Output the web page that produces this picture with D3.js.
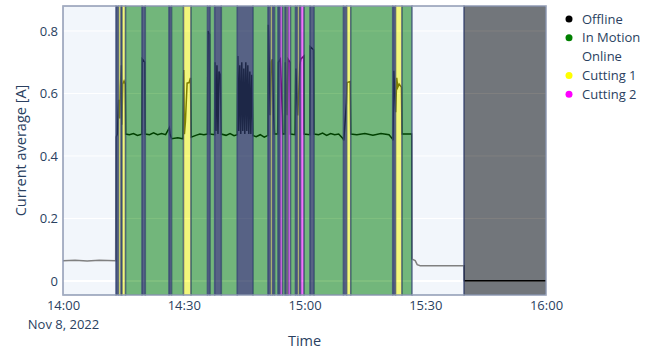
<!DOCTYPE html>
<html>
<head>
<meta charset="utf-8">
<script src="https://cdn.jsdelivr.net/npm/d3@7"></script>
<style>
  html, body { margin: 0; padding: 0; background: #fff; }
  body { width: 657px; height: 353px; overflow: hidden; }
  text { font-family: "Open Sans", "DejaVu Sans", sans-serif; fill: #2a3f5f; }
</style>
</head>
<body>
<div id="chart"></div>
<script>
// machine state intervals: each state lasts until the next start
var stateStarts = [
  "14:00:00", "14:13:10", "14:13:48", "14:14:25", "14:14:40", "14:15:32",
  "14:19:38", "14:20:27", "14:26:20", "14:26:58", "14:29:56", "14:31:48",
  "14:35:54", "14:36:31", "14:37:41", "14:39:20", "14:43:18", "14:47:12",
  "14:50:56", "14:51:33", "14:52:03", "14:52:33", "14:53:25", "14:53:55",
  "14:54:32", "14:55:10", "14:55:32", "14:55:54", "14:56:31", "14:57:46",
  "14:58:16", "14:58:46", "14:59:01", "14:59:53", "15:01:22", "15:02:22",
  "15:09:41", "15:10:29", "15:11:29", "15:21:55", "15:22:37", "15:24:13",
  "15:26:43", "15:39:38"
];
var stateNames = [
  "online", "idle", "cut1", "idle", "cut1", "motion",
  "idle", "motion", "idle", "motion", "cut1", "motion",
  "idle", "motion", "idle", "motion", "idle", "motion",
  "idle", "cut1", "idle", "motion", "idle", "cut2",
  "motion", "idle", "cut1", "cut2", "motion", "idle",
  "cut1", "idle", "cut2", "motion", "idle", "motion",
  "idle", "cut1", "motion", "idle", "cut1", "motion",
  "online", "offline"
];
var stateEnd = "16:00:00";

// current average readings
var currentTimes = [
  "14:00:00", "14:03:00", "14:06:00", "14:09:00", "14:13:05", "14:13:10",
  "14:13:30", "14:13:50", "14:14:05", "14:14:15", "14:14:30", "14:14:38",
  "14:14:50", "14:15:10", "14:15:28", "14:15:34", "14:16:30", "14:17:30",
  "14:18:30", "14:19:35", "14:19:42", "14:20:20", "14:20:27", "14:21:30",
  "14:22:30", "14:23:30", "14:24:30", "14:25:30", "14:26:25", "14:26:35",
  "14:27:00", "14:28:30", "14:29:50", "14:30:00", "14:30:10", "14:30:25",
  "14:30:50", "14:31:20", "14:31:40", "14:31:50", "14:33:00", "14:34:00",
  "14:35:00", "14:35:54", "14:36:00", "14:36:25", "14:36:31", "14:37:40",
  "14:37:45", "14:38:00", "14:38:15", "14:38:30", "14:38:45", "14:39:05",
  "14:39:20", "14:40:30", "14:41:30", "14:42:30", "14:43:18", "14:43:25",
  "14:43:40", "14:43:55", "14:44:10", "14:44:25", "14:44:40", "14:44:55",
  "14:45:10", "14:45:25", "14:45:40", "14:45:55", "14:46:10", "14:46:25",
  "14:46:40", "14:46:55", "14:47:12", "14:48:00", "14:49:00", "14:50:00",
  "14:50:56", "14:51:00", "14:51:30", "14:51:45", "14:52:00", "14:52:20",
  "14:52:33", "14:53:20", "14:53:30", "14:54:00", "14:54:30", "14:54:35",
  "14:55:10", "14:55:15", "14:55:40", "14:55:55", "14:56:25", "14:56:31",
  "14:57:40", "14:57:50", "14:58:20", "14:58:50", "14:59:05", "14:59:50",
  "14:59:53", "15:01:20", "15:01:25", "15:02:15", "15:02:22", "15:03:30",
  "15:04:30", "15:05:30", "15:06:30", "15:07:30", "15:08:30", "15:09:35",
  "15:09:45", "15:10:25", "15:10:35", "15:11:20", "15:11:29", "15:13:00",
  "15:15:00", "15:17:00", "15:19:00", "15:21:00", "15:21:50", "15:22:00",
  "15:22:10", "15:22:40", "15:22:55", "15:23:10", "15:23:30", "15:24:05",
  "15:24:13", "15:25:30", "15:26:40", "15:26:45", "15:27:30", "15:28:00",
  "15:28:45", "15:33:00", "15:39:35", "15:39:38", "16:00:00"
];
var currentValues = [
  0.065, 0.066, 0.064, 0.066, 0.065, 0.46,
  0.47, 0.58, 0.52, 0.62, 0.69, 0.50,
  0.63, 0.64, 0.63, 0.47, 0.468, 0.472,
  0.466, 0.47, 0.71, 0.70, 0.47, 0.468,
  0.474, 0.468, 0.472, 0.468, 0.49, 0.47,
  0.455, 0.458, 0.455, 0.675, 0.47, 0.51,
  0.633, 0.635, 0.65, 0.46, 0.466, 0.47,
  0.468, 0.47, 0.80, 0.79, 0.47, 0.468,
  0.70, 0.48, 0.69, 0.47, 0.67, 0.66,
  0.47, 0.466, 0.472, 0.465, 0.468, 0.72,
  0.48, 0.69, 0.47, 0.70, 0.48, 0.68,
  0.47, 0.70, 0.48, 0.69, 0.47, 0.67,
  0.47, 0.66, 0.465, 0.462, 0.468, 0.46,
  0.466, 0.82, 0.53, 0.70, 0.71, 0.53,
  0.47, 0.47, 0.70, 0.71, 0.53, 0.47,
  0.47, 0.70, 0.53, 0.71, 0.70, 0.47,
  0.468, 0.68, 0.53, 0.69, 0.71, 0.72,
  0.47, 0.468, 0.75, 0.74, 0.47, 0.468,
  0.473, 0.466, 0.472, 0.468, 0.47, 0.455,
  0.45, 0.57, 0.635, 0.638, 0.47, 0.468,
  0.472, 0.466, 0.472, 0.468, 0.455, 0.45,
  0.673, 0.54, 0.65, 0.62, 0.63, 0.62,
  0.47, 0.47, 0.47, 0.07, 0.065, 0.052,
  0.049, 0.049, 0.049, 0.001, 0.001
];

var yTicks = [0, 0.2, 0.4, 0.6, 0.8];
var legendNames = ["Offline", "In Motion", "Online", "Cutting 1", "Cutting 2"];
var legendKeys = ["offline", "motion", "online", "cut1", "cut2"];

var stateColor = {
  offline: "#000000",
  motion: "#008000",
  online: "#ffffff",
  cut1: "#ffff00",
  cut2: "#ff00ff",
  idle: "#27345f"
};

var parseT = d3.timeParse("%Y-%m-%d %H:%M:%S");
function t(s) { return parseT("2022-11-08 " + s); }

var width = 657, height = 353;
var margin = { left: 63, right: 111, top: 6, bottom: 58 };

var svg = d3.select("#chart").append("svg")
    .attr("width", width)
    .attr("height", height);

var x = d3.scaleTime()
    .domain([t("14:00:00"), t("16:00:00")])
    .range([margin.left, width - margin.right]);

var y = d3.scaleLinear()
    .domain([-0.045, 0.88])
    .range([height - margin.bottom, margin.top]);

// plot background and grid
svg.append("rect")
    .attr("x", x.range()[0]).attr("y", y.range()[1])
    .attr("width", x.range()[1] - x.range()[0])
    .attr("height", y.range()[0] - y.range()[1])
    .attr("fill", "#e5ecf6");

svg.append("g").selectAll("line")
    .data(yTicks)
    .enter().append("line")
    .attr("x1", x.range()[0]).attr("x2", x.range()[1])
    .attr("y1", function(d) { return y(d); })
    .attr("y2", function(d) { return y(d); })
    .attr("stroke", "#fff")
    .attr("stroke-width", function(d) { return d === 0 ? 2 : 1; });

// current line sits below the state shading
var points = currentTimes.map(function(s, i) { return [t(s), currentValues[i]]; });
var line = d3.line()
    .x(function(d) { return x(d[0]); })
    .y(function(d) { return y(d[1]); });

svg.append("path")
    .datum(points)
    .attr("d", line)
    .attr("fill", "none")
    .attr("stroke", "#000")
    .attr("stroke-width", 1.5);

// state shading
var segments = stateStarts.map(function(s, i) {
  return {
    start: t(s),
    end: t(i + 1 < stateStarts.length ? stateStarts[i + 1] : stateEnd),
    state: stateNames[i]
  };
});

svg.append("g").selectAll("rect")
    .data(segments)
    .enter().append("rect")
    .attr("x", function(d) { return x(d.start); })
    .attr("y", y.range()[1])
    .attr("width", function(d) { return x(d.end) - x(d.start); })
    .attr("height", y.range()[0] - y.range()[1])
    .attr("fill", function(d) { return stateColor[d.state]; })
    .attr("fill-opacity", function(d) { return d.state === "idle" ? 0.75 : 0.5; })
    .attr("stroke", "#3d4a78")
    .attr("stroke-opacity", 0.55)
    .attr("stroke-width", 1.5);

// frame
svg.append("rect")
    .attr("x", x.range()[0]).attr("y", y.range()[1])
    .attr("width", x.range()[1] - x.range()[0])
    .attr("height", y.range()[0] - y.range()[1])
    .attr("fill", "none")
    .attr("stroke", "#a7b2c5")
    .attr("stroke-width", 1);

// axes
var fmt = d3.timeFormat("%H:%M");
var xAxis = svg.append("g")
    .attr("transform", "translate(0," + y.range()[0] + ")")
    .call(d3.axisBottom(x).ticks(d3.timeMinute.every(30)).tickSize(0).tickPadding(6).tickFormat(fmt));
xAxis.select(".domain").remove();
xAxis.selectAll("text")
    .attr("font-size", 13)
    .attr("fill", "#2a3f5f")
    .style("font-family", "'Open Sans', sans-serif");
xAxis.selectAll(".tick").filter(function(d, i) { return i === 0; })
    .append("text")
    .attr("y", 25).attr("dy", "0.71em")
    .attr("text-anchor", "middle")
    .attr("font-size", 13)
    .text("Nov 8, 2022");

var yAxis = svg.append("g")
    .attr("transform", "translate(" + x.range()[0] + ",0)")
    .call(d3.axisLeft(y).tickValues(yTicks).tickSize(0).tickPadding(5)
      .tickFormat(function(d) { return d === 0 ? "0" : d3.format(".1f")(d); }));
yAxis.select(".domain").remove();
yAxis.selectAll("text")
    .attr("font-size", 13)
    .attr("fill", "#2a3f5f")
    .style("font-family", "'Open Sans', sans-serif");

svg.append("text")
    .attr("transform", "translate(21," + ((y.range()[0] + y.range()[1]) / 2) + ") rotate(-90)")
    .attr("text-anchor", "middle")
    .attr("dy", "0.35em")
    .attr("font-size", 14.5)
    .text("Current average [A]");

svg.append("text")
    .attr("x", (x.range()[0] + x.range()[1]) / 2)
    .attr("y", 346)
    .attr("text-anchor", "middle")
    .attr("font-size", 14.5)
    .text("Time");

// legend
var legend = svg.append("g")
    .attr("transform", "translate(569,19)");
var items = legend.selectAll("g")
    .data(legendNames)
    .enter().append("g")
    .attr("transform", function(d, i) { return "translate(0," + (i * 18.8) + ")"; });
items.append("circle")
    .attr("r", 3.5)
    .attr("fill", function(d, i) { return stateColor[legendKeys[i]]; });
items.append("text")
    .attr("x", 13)
    .attr("dy", "0.35em")
    .attr("font-size", 13)
    .text(function(d) { return d; });
</script>
</body>
</html>
